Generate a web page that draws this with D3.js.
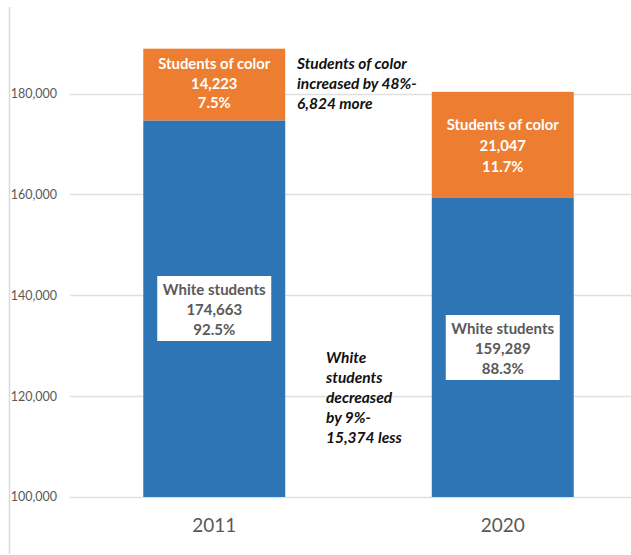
<!DOCTYPE html>
<html>
<head>
<meta charset="utf-8">
<script src="https://cdn.jsdelivr.net/npm/d3@7"></script>
<style>
  body { margin: 0; background: #fff; }
  svg { display: block; font-family: Lato, 'Open Sans', sans-serif; }
</style>
</head>
<body>
<svg class="stage" width="631" height="555"></svg>
<script>
(function () {
  var years = ['2011', '2020'];
  var white = [174663, 159289];
  var color = [14223, 21047];
  var whitePct = ['92.5%', '88.3%'];
  var colorPct = ['7.5%', '11.7%'];
  var yTicks = [100000, 120000, 140000, 160000, 180000];
  var noteColor = ['Students of color', 'increased by 48%-', '6,824 more'];
  var noteWhite = ['White', 'students', 'decreased', 'by 9%-', '15,374 less'];

  var svg = d3.select('svg.stage');
  var fmt = d3.format(',');

  var y = d3.scaleLinear().domain([100000, 180000]).range([497, 93.5]);
  var x = d3.scaleBand().domain(years).range([70, 647]).paddingInner(0.508).paddingOuter(0.254);

  // left border line
  svg.append('line')
    .attr('x1', 9.5).attr('x2', 9.5).attr('y1', 7).attr('y2', 554)
    .attr('stroke', '#d9d9d9').attr('stroke-width', 1.5);

  // gridlines + tick labels
  var grid = svg.append('g');
  grid.selectAll('line')
    .data(yTicks)
    .enter().append('line')
    .attr('x1', 70).attr('x2', 631)
    .attr('y1', function (d) { return Math.round(y(d)) + 0.5; })
    .attr('y2', function (d) { return Math.round(y(d)) + 0.5; })
    .attr('stroke', '#e0e0e0').attr('stroke-width', 1.5);

  grid.selectAll('text')
    .data(yTicks)
    .enter().append('text')
    .attr('x', 57).attr('y', function (d) { return y(d); })
    .attr('dy', '0.35em')
    .attr('text-anchor', 'end')
    .attr('fill', '#595959')
    .style('font-size', '12.5px')
    .text(fmt);

  // bars
  var bars = svg.append('g');
  bars.selectAll('rect.white')
    .data(years)
    .enter().append('rect')
    .attr('class', 'white')
    .attr('x', function (d) { return x(d); })
    .attr('width', x.bandwidth())
    .attr('y', function (d, i) { return y(white[i]); })
    .attr('height', function (d, i) { return y(100000) - y(white[i]); })
    .attr('fill', '#2e75b6');

  bars.selectAll('rect.color')
    .data(years)
    .enter().append('rect')
    .attr('class', 'color')
    .attr('x', function (d) { return x(d); })
    .attr('width', x.bandwidth())
    .attr('y', function (d, i) { return y(white[i] + color[i]); })
    .attr('height', function (d, i) { return y(white[i]) - y(white[i] + color[i]); })
    .attr('fill', '#ed7d31');

  // labels in the orange segments
  var colorLabelTop = [64, 125];
  var colorLabelStep = [19.6, 20.8];
  years.forEach(function (yr, i) {
    var cx = x(yr) + x.bandwidth() / 2;
    var lines = ['Students of color', fmt(color[i]), colorPct[i]];
    svg.append('text')
      .attr('text-anchor', 'middle')
      .attr('fill', '#fff')
      .style('font-size', '14.8px')
      .style('font-weight', 'bold')
      .selectAll('tspan')
      .data(lines)
      .enter().append('tspan')
      .attr('x', cx)
      .attr('y', function (d, k) { return colorLabelTop[i] + k * colorLabelStep[i]; })
      .attr('dy', '0.35em')
      .text(function (d) { return d; });
  });

  // white label boxes
  var boxTop = [276, 315];
  years.forEach(function (yr, i) {
    var cx = x(yr) + x.bandwidth() / 2;
    svg.append('rect')
      .attr('x', cx - 57).attr('width', 114)
      .attr('y', boxTop[i]).attr('height', 65)
      .attr('fill', '#fff');
    var lines = ['White students', fmt(white[i]), whitePct[i]];
    svg.append('text')
      .attr('text-anchor', 'middle')
      .attr('fill', '#595959')
      .style('font-size', '15px')
      .style('font-weight', 'bold')
      .selectAll('tspan')
      .data(lines)
      .enter().append('tspan')
      .attr('x', cx)
      .attr('y', function (d, k) { return boxTop[i] + 14 + k * 20; })
      .attr('dy', '0.35em')
      .text(function (d) { return d; });
  });

  // annotations
  function note(lines, x0, y0) {
    svg.append('text')
      .attr('fill', '#111')
      .style('font-size', '15.5px')
      .style('font-weight', 'bold')
      .style('font-style', 'italic')
      .selectAll('tspan')
      .data(lines)
      .enter().append('tspan')
      .attr('x', x0)
      .attr('y', function (d, k) { return y0 + k * 20; })
      .attr('dy', '0.35em')
      .text(function (d) { return d; });
  }
  note(noteColor, 297, 64);
  note(noteWhite, 326, 358);

  // x labels
  svg.append('g').selectAll('text')
    .data(years)
    .enter().append('text')
    .attr('x', function (d) { return x(d) + x.bandwidth() / 2; })
    .attr('y', 525)
    .attr('dy', '0.35em')
    .attr('text-anchor', 'middle')
    .attr('fill', '#595959')
    .style('font-size', '19px')
    .text(function (d) { return d; });
})();
</script>
</body>
</html>
